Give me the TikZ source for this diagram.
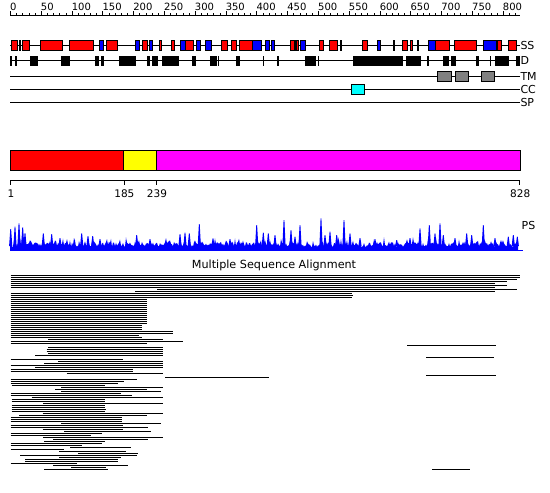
\documentclass[tikz,border=0pt]{standalone}
\usepackage{fontspec}
\setmainfont{DejaVu Sans}
\definecolor{ssred}{RGB}{255,0,0}
\definecolor{ssblue}{RGB}{0,0,255}
\definecolor{tmgray}{RGB}{128,128,128}
\definecolor{cccyan}{RGB}{0,255,255}
\definecolor{dommag}{RGB}{255,0,255}
\definecolor{domyel}{RGB}{255,255,0}
\definecolor{psblue}{RGB}{0,0,255}
\begin{document}
\begin{tikzpicture}[x=1pt,y=-1pt,
  trackline/.style={line width=1pt},
  featbox/.style={draw=black,line width=0.8pt},
  tlabel/.style={anchor=west,inner sep=0pt,font=\fontsize{11}{11}\selectfont},
  numlabel/.style={inner sep=0pt,font=\fontsize{10}{10}\selectfont},
  msaline/.style={line width=1pt}]
\useasboundingbox (0,0) rectangle (550,493);
\fill[white] (0,0) rectangle (550,493);
% ---------- ruler ----------
\draw[trackline] (10,15.5) -- (520,15.5);
\foreach \r in {0,10,...,820} \draw[line width=0.8pt] ({10.5+\r*0.61594},15.5) -- ++(0,-2.5);
\foreach \r in {0,50,...,800} {
  \draw[line width=0.8pt] ({10.5+\r*0.61594},15.5) -- ++(0,-4.5);
  \node[numlabel,anchor=base west] (rl\r) at ({10+\r*0.61594},10.4) {\r};
}
% ---------- tracks ----------
\foreach \y in {45.5,60.5,76,89,102} \draw[trackline] (10,\y) -- (520,\y);
\node[tlabel] (lss) at (520.3,45.3) {SS};
\node[tlabel] (ld) at (520.3,60.8) {D};
\node[tlabel] (ltm) at (520.3,76) {TM};
\node[tlabel] (lcc) at (520.3,89.2) {CC};
\node[tlabel] (lsp) at (520.3,102.2) {SP};
% SS helices
\foreach \a/\b in {11/17,22.3/29.3,40.3/62.7,69.3/93.3,106.3/117,142.3/147.7,159/161.3,171.3/174.3,185/193.7,221.3/227.3,231.3/236.7,239.7/252.3,290.3/294,296/298.5,319.3/323.7,329.3/337.7,362.3/367.7,402.3/407.3,410.3/412.7,435.7/449.7,454.3/476.7,497/501.7,508.3/516.7}
  \filldraw[featbox,fill=ssred] (\a,40.2) rectangle (\b,50.5);
% SS strands
\foreach \a/\b in {99.3/103.7,135/139.3,149.3/152.7,180.3/185,196/200.7,205.3/211.7,252.3/261.7,265.3/269.7,271.3/274.7,300/305.7,377.3/380.3,428.3/435.7,483.3/496}
  \filldraw[featbox,fill=ssblue] (\a,40.2) rectangle (\b,50.5);
% SS thin marks
\foreach \x in {20,295.2,341,394,417.7}
  \fill[black] (\x-0.8,40.2) rectangle (\x+0.8,50.5);
% D thin marks
\foreach \x in {10.8,16,218.3,263.3,277.7,318.3,427.7,490.3}
  \fill[black] (\x-0.8,55.5) rectangle (\x+0.8,65.7);
% D boxes
\foreach \a/\b in {30.3/37.7,61/69.7,95/98.7,100.7/103.7,119.3/135.7,146.7/149.7,152/158,162/179,192/195.7,210/217,236/240,305.3/316,353.3/402.7,406/420.7,443/449,451/455.7,476/479.3,495.3/508.7,516/520}
  \fill[black] (\a,55.5) rectangle (\b,65.7);
% TM
\foreach \a/\b in {437.3/451.7,455/468.7,481.3/494.7}
  \filldraw[featbox,fill=tmgray] (\a,71) rectangle (\b,81);
% CC
\filldraw[featbox,fill=cccyan] (351.7,84.3) rectangle (364.3,94);
% ---------- domain bar ----------
\filldraw[featbox,line width=1pt,fill=ssred] (10,150) rectangle (123.9,170.5);
\filldraw[featbox,line width=1pt,fill=domyel] (123.9,150) rectangle (156.5,170.5);
\filldraw[featbox,line width=1pt,fill=dommag] (156.5,150) rectangle (520,170.5);
\draw[trackline] (10,180.5) -- (520,180.5);
\foreach \x/\t/\n in {10.5/1/d1,123.9/185/d2,156.5/239/d3,519.7/828/d4} {
  \draw[line width=0.8pt] (\x,180.5) -- ++(0,4);
  \node[numlabel,anchor=base,font=\fontsize{10.5}{10.5}\selectfont] (\n) at (\x+0.5,197.3) {\t};
}
% ---------- PS plot ----------
\pgfmathsetseed{12}
\fill[psblue] (10,250) \foreach \x in {10,11,...,518} { -- (\x,{250-3-4.5*rnd-6*rnd^5}) } -- (518,250) -- cycle;
\foreach \x/\t in {10.7/229,15/226.7,19/223.3,22.7/227.3,25/233,43.3/233.3,51.7/234,60/238,81.7/233.3,88/236,92.7/236,100/239,136.7/235,150/239,180/234,185/232.7,189.3/233.3,199.3/224,213/238.3,230/239,256.7/225,263.3/232.7,268.3/233.3,275/235,284/220,291/230,295/236.7,300/225,321/218.3,325/235,330/231.7,336.7/235,344/220,350/233.3,360/238,375/239,396.7/240,410/238,420/228.3,429.3/225,435/233.3,440/223.3,443.3/235,455/238,466.7/233.3,471.7/235,483.3/225,495/238,508.3/236.7,513.3/235,517.3/236.7}
  \fill[psblue] (\x-1.6,246) -- (\x-0.4,\t) -- (\x+0.4,\t) -- (\x+1.6,246) -- cycle;
\draw[psblue,line width=1pt] (10,250) -- (523,250);
\node[tlabel] (lps) at (521.5,225.7) {PS};
% ---------- MSA ----------
\node[inner sep=0pt,font=\fontsize{11.2}{11.2}\selectfont] (msat) at (274,265.3) {Multiple Sequence Alignment};
\foreach \y/\a/\b in {275/10.7/520,277/10.7/520,279/10.7/517.3,281/10.7/507.3,283/10.7/495,285/10.7/507.3,287/10.7/495,289/157.3/516.7,291/135/495,293/10.7/351.7,295/10.7/353.3,297/10.7/352.3,
299/10.7/146.7,301/10.7/146.7,303/10.7/146.7,305/10.7/146.7,307/10.7/146.7,309/10.7/146.7,311/10.7/146.7,313/10.7/146.7,315/10.7/146.7,317/10.7/146.7,319/10.7/146.7,321/10.7/146.7,323/10.7/146.7,
325/10.7/141.7,327/10.7/141.7,329/10.7/141.7,331/10.7/172.7,333/10.7/172.7,335/10.7/139.3,337/10.7/141.7,339/48.3/162.7,341/10.7/182.7,343/10.7/146.7,345/407.3/495.7,
347/48.3/162.7,349/46.7/162.7,351/46.7/162.7,353/48.3/162.7,355/35/162.7,357/426/494.3,359/10.7/122.7,361/58.3/162.7,363/44/162.7,365/10.7/162.7,367/35/162.7,369/10.7/132.7,
371/10.7/132.7,373/66.7/162.7,375/426/495.7,377/165/269.3,379/10.7/136.7,
381/10.7/124,383/10.7/117.7,385/11.7/105,387/61/162.7,389/55/146.7,391/61/160.7,393/10.7/120.7,395/10.7/131.7,397/31.7/162.7,399/11.7/105,401/11.7/105,403/43.3/162.7,405/11.7/105,407/11.7/105,409/11.7/106,411/11.7/105,413/42.7/162.7,415/19.3/146.7,417/10.7/121.7,419/10.7/121.7,421/10.7/121.7,423/61/160.7,425/10.7/122.7,427/10.7/147.7,429/42.7/122.7,431/64.3/150.7,433/10.7/101.7,435/10.7/90.7,437/43.3/162.7,439/53.3/147.7,441/44.3/105,443/10.7/101.7,445/10.7/81.7,447/70/130.7,449/10.7/64.3,451/59.3/125.7,453/78.3/138.3,455/20/136.7,457/59.3/120.7,459/25/117.7,461/25/117.7,463/10.7/77.3,465/53.3/127.7,467/71/106,469/44.3/108.3,469/432/470}
  \draw[msaline] (\a,\y+0.5) -- (\b,\y+0.5);
\end{tikzpicture}
\end{document}
